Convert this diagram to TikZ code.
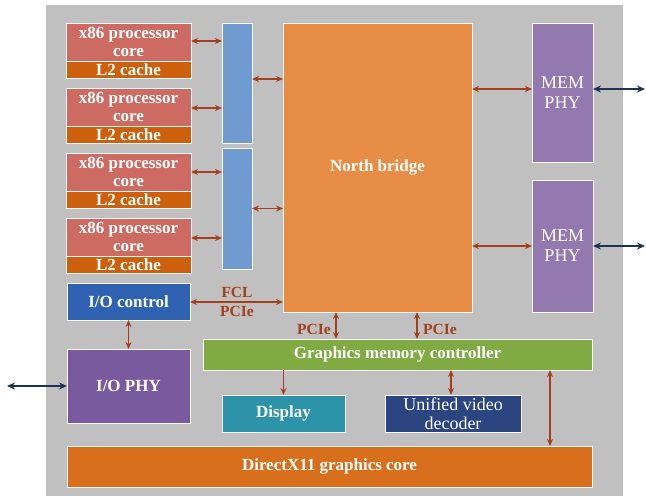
\documentclass[tikz,border=0pt]{standalone}
\usepackage{fontspec}
\setmainfont{Liberation Serif}
\usetikzlibrary{arrows.meta}
\definecolor{bgc}{HTML}{C0C0C0}
\definecolor{corec}{HTML}{CD6B63}
\definecolor{l2c}{HTML}{CC600C}
\definecolor{barc}{HTML}{6F9BD1}
\definecolor{nbc}{HTML}{E88D45}
\definecolor{memc}{HTML}{9478B0}
\definecolor{iocc}{HTML}{2F62B0}
\definecolor{iophyc}{HTML}{7A5A9E}
\definecolor{gmcc}{HTML}{80AA42}
\definecolor{dispc}{HTML}{2C93A8}
\definecolor{uvdc}{HTML}{2B4581}
\definecolor{dxc}{HTML}{D86F1C}
\definecolor{arrc}{HTML}{A3401B}
\definecolor{extc}{HTML}{1E3354}
\tikzset{
  blk/.style={draw=white!90!bgc, line width=1pt, inner sep=0pt, outer sep=0pt, text=white, align=center, font=\fontsize{17}{19}\selectfont\bfseries},
  lnk/.style={draw=arrc, line width=1.2pt, {Stealth[length=7pt,width=6pt]}-{Stealth[length=7pt,width=6pt]}},
  lnk1/.style={draw=arrc, line width=1.2pt, -{Stealth[length=7pt,width=6pt]}},
  extl/.style={draw=extc, line width=1.3pt, {Stealth[length=8pt,width=7pt]}-{Stealth[length=8pt,width=7pt]}},
  lbl/.style={text=arrc, font=\fontsize{15.5}{16}\selectfont\bfseries, inner sep=0pt}
}
\begin{document}
\begin{tikzpicture}[x=1pt,y=-1pt]
\useasboundingbox (0,0) rectangle (646,496);
\fill[bgc] (46,5) rectangle (623,496);
% cores
\foreach \i/\cy/\ly in {1/42/69.5, 2/107/134.5, 3/172/199.5, 4/237/264.5}{
  \node[blk, fill=corec, minimum width=125pt, minimum height=38pt, font=\fontsize{17}{18}\selectfont\bfseries] (core\i) at (128.5,\cy) {x86 processor\\core};
  \node[blk, fill=l2c, minimum width=125pt, minimum height=17pt] (l2\i) at (128.5,\ly) {L2 cache};
}
\node[blk, fill=barc, minimum width=30pt, minimum height=120pt] (bar1) at (237,83) {};
\node[blk, fill=barc, minimum width=30pt, minimum height=121pt] (bar2) at (237,208.5) {};
\node[blk, fill=nbc, minimum width=189pt, minimum height=289pt] (nb) at (377.5,167.5) {North bridge};
\node[blk, fill=memc, minimum width=61pt, minimum height=139pt, font=\fontsize{18}{20}\selectfont] (mem1) at (562.5,92.5) {MEM\\PHY};
\node[blk, fill=memc, minimum width=61pt, minimum height=132pt, font=\fontsize{18}{20}\selectfont] (mem2) at (562.5,246) {MEM\\PHY};
\node[blk, fill=iocc, minimum width=123pt, minimum height=37pt] (ioc) at (128.5,301.5) {I/O control};
\node[blk, fill=iophyc, minimum width=123pt, minimum height=74pt] (iophy) at (128.5,386) {I/O PHY};
\node[blk, fill=gmcc, minimum width=389pt, minimum height=31pt] (gmc) at (397.5,354.5) {Graphics memory controller};
\node[blk, fill=dispc, minimum width=123pt, minimum height=37pt] (disp) at (283.5,413.5) {Display};
\node[blk, fill=uvdc, minimum width=136pt, minimum height=37pt, font=\fontsize{18}{19}\selectfont] (uvd) at (453,413.5) {Unified video\\decoder};
\node[blk, fill=dxc, minimum width=525pt, minimum height=41pt] (dx) at (329.5,466.5) {DirectX11 graphics core};
% links cores to bars
\draw[lnk] ([yshift=1pt]core1.east) -- ([yshift=1pt]core1.east -| bar1.west);
\draw[lnk] ([yshift=-1pt]core2.east) -- ([yshift=-1pt]core2.east -| bar1.west);
\draw[lnk] (core3.east) -- (core3.east -| bar2.west);
\draw[lnk] ([yshift=-1pt]core4.east) -- ([yshift=-1pt]core4.east -| bar2.west);
\draw[lnk] ([yshift=4pt]bar1.east) -- ([yshift=4pt]bar1.east -| nb.west);
\draw[lnk] (bar2.east) -- (bar2.east -| nb.west);
% NB to MEM
\draw[lnk] ([yshift=3.5pt]mem1.west -| nb.east) -- ([yshift=3.5pt]mem1.west);
\draw[lnk] (mem2.west -| nb.east) -- (mem2.west);
\coordinate (e1) at (645,89);
\coordinate (e2) at (645,246);
\coordinate (e3) at (7,386);
\draw[extl] ([yshift=3.5pt]mem1.east) -- (e1);
\draw[extl] (mem2.east) -- (e2);
\draw[extl] (e3) -- (iophy.west);
% IO
\draw[lnk] ([yshift=-0.5pt]ioc.east) -- ([yshift=-0.5pt]ioc.east -| nb.west);
\node[lbl, anchor=base] (fcl) at (237,297) {FCL};
\node[lbl, anchor=base] (pcie0) at (237,316) {PCIe};
\draw[lnk] (ioc.south) -- (iophy.north);
% NB to GMC
\draw[lnk] ([xshift=53pt]nb.south west) -- ([xshift=53pt]nb.south west |- gmc.north);
\draw[lnk] ([xshift=134pt]nb.south west) -- ([xshift=134pt]nb.south west |- gmc.north);
\node[lbl, anchor=base east] (pcie1) at (331,334) {PCIe};
\node[lbl, anchor=base west] (pcie2) at (423,334) {PCIe};
% GMC to below
\draw[lnk1] (disp.north |- gmc.south) -- (disp.north);
\draw[lnk] ([xshift=-2pt]uvd.north |- gmc.south) -- ([xshift=-2pt]uvd.north);
\draw[lnk] ([xshift=-42pt]gmc.south east) -- ([xshift=-42pt]gmc.south east |- dx.north);
\end{tikzpicture}
\end{document}
